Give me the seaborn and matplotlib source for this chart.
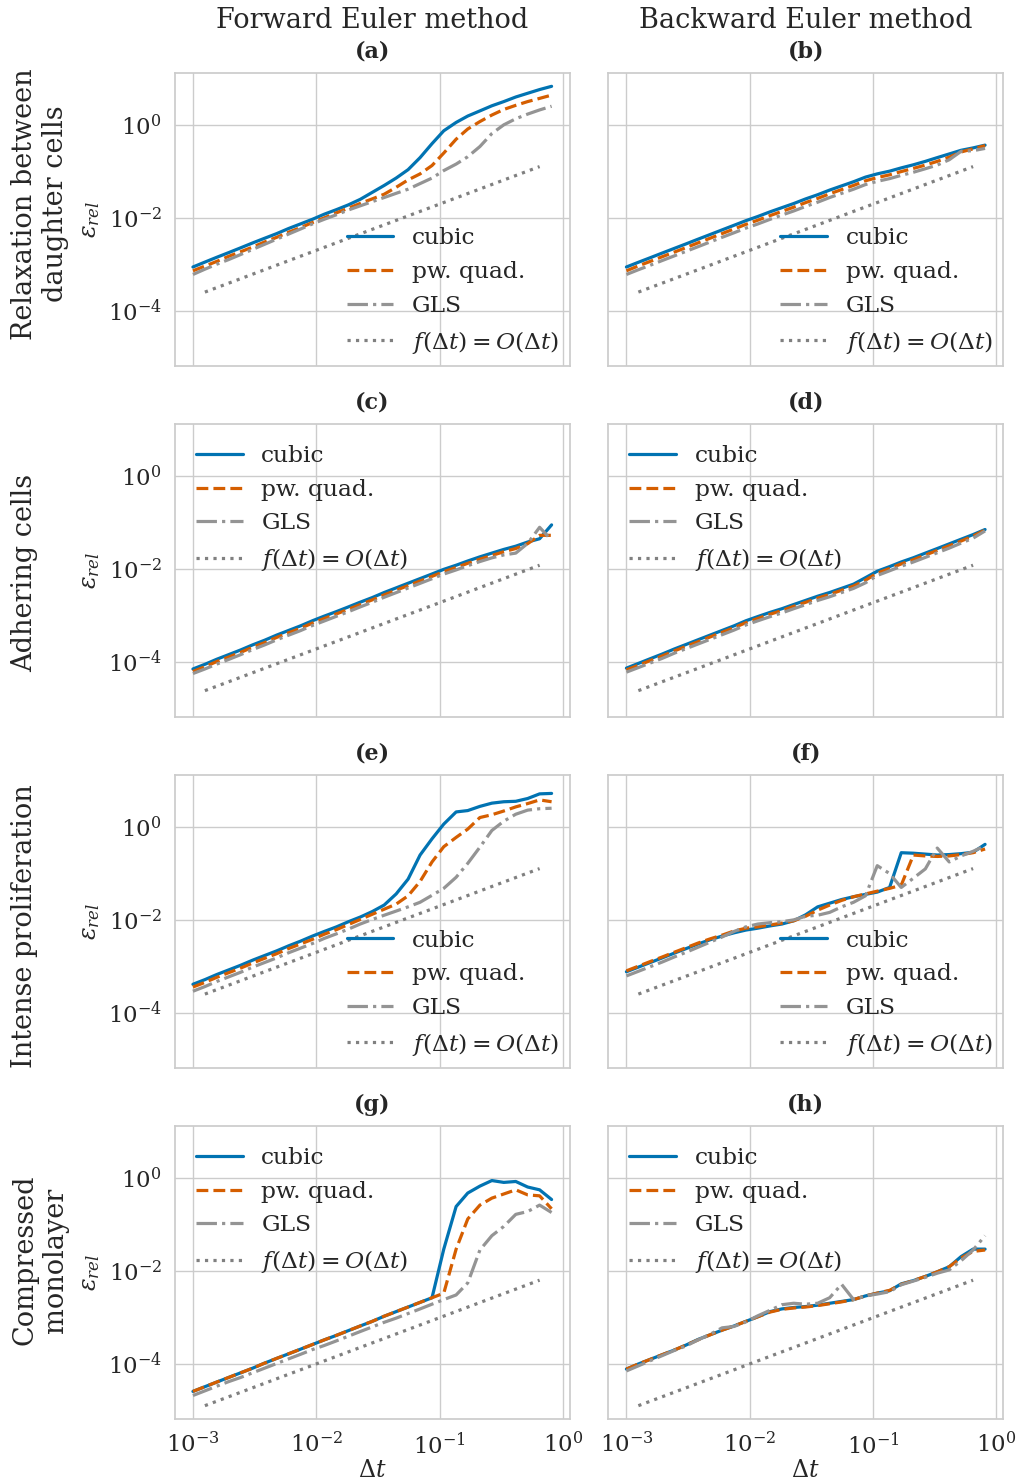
import numpy as np
import pandas as pd
import seaborn as sns
import matplotlib
matplotlib.use("Agg")
import matplotlib.pyplot as plt
from matplotlib.ticker import NullLocator

# time steps (shared by every panel)
dt = [0.001, 0.00125, 0.00156, 0.00195, 0.00244, 0.00305, 0.00381, 0.00477, 0.00596, 0.00745,
      0.00931, 0.0116, 0.0146, 0.0182, 0.0227, 0.0284, 0.0355, 0.0444, 0.0555, 0.0694,
      0.0867, 0.108, 0.136, 0.169, 0.212, 0.265, 0.331, 0.414, 0.517, 0.646, 0.808]

# relaxation between daughter cells
relax_fe_cubic = [8.7e-4, 1.11e-3, 1.41e-3, 1.78e-3, 2.26e-3, 2.88e-3, 3.63e-3, 4.57e-3, 5.89e-3, 7.41e-3,
                  9.33e-3, 1.20e-2, 1.51e-2, 1.91e-2, 2.51e-2, 3.55e-2, 5.01e-2, 7.24e-2, 0.110, 0.20,
                  0.40, 0.759, 1.15, 1.58, 2.04, 2.63, 3.24, 4.07, 4.90, 5.89, 6.92]
relax_fe_quad = [7.2e-4, 9.1e-4, 1.15e-3, 1.48e-3, 1.86e-3, 2.34e-3, 3.02e-3, 3.80e-3, 4.90e-3, 6.17e-3,
                 7.94e-3, 1.00e-2, 1.29e-2, 1.62e-2, 2.05e-2, 2.57e-2, 3.24e-2, 4.57e-2, 6.61e-2, 8.91e-2,
                 0.135, 0.251, 0.50, 0.83, 1.20, 1.66, 2.19, 2.69, 3.24, 3.80, 4.47]
relax_fe_gls = [6.0e-4, 7.8e-4, 1.00e-3, 1.26e-3, 1.62e-3, 2.09e-3, 2.69e-3, 3.47e-3, 4.47e-3, 5.75e-3,
                7.41e-3, 9.33e-3, 1.17e-2, 1.48e-2, 1.82e-2, 2.24e-2, 2.75e-2, 3.39e-2, 4.17e-2, 5.50e-2,
                7.24e-2, 0.105, 0.145, 0.209, 0.347, 0.661, 1.02, 1.38, 1.74, 2.14, 2.57]
relax_be_cubic = [8.7e-4, 1.10e-3, 1.38e-3, 1.74e-3, 2.19e-3, 2.75e-3, 3.47e-3, 4.37e-3, 5.50e-3, 6.92e-3,
                  8.71e-3, 1.07e-2, 1.35e-2, 1.66e-2, 2.04e-2, 2.57e-2, 3.16e-2, 3.98e-2, 4.90e-2, 6.03e-2,
                  7.59e-2, 8.91e-2, 0.102, 0.120, 0.140, 0.166, 0.200, 0.240, 0.288, 0.324, 0.372]
relax_be_quad = [7.2e-4, 9.2e-4, 1.15e-3, 1.45e-3, 1.82e-3, 2.29e-3, 2.89e-3, 3.64e-3, 4.58e-3, 5.76e-3,
                 7.25e-3, 8.9e-3, 1.12e-2, 1.38e-2, 1.70e-2, 2.14e-2, 2.63e-2, 3.31e-2, 4.08e-2, 5.02e-2,
                 6.32e-2, 7.41e-2, 8.5e-2, 0.100, 0.117, 0.138, 0.166, 0.205, 0.265, 0.309, 0.363]
relax_be_gls = [6.0e-4, 7.6e-4, 9.5e-4, 1.20e-3, 1.51e-3, 1.90e-3, 2.39e-3, 3.02e-3, 3.80e-3, 4.77e-3,
                6.01e-3, 7.38e-3, 9.3e-3, 1.15e-2, 1.41e-2, 1.77e-2, 2.18e-2, 2.75e-2, 3.38e-2, 4.16e-2,
                5.24e-2, 6.15e-2, 7.04e-2, 8.28e-2, 9.66e-2, 0.115, 0.138, 0.18, 0.274, 0.282, 0.316]

# adhering cells
adh_fe_cubic = [6.9e-5, 8.7e-5, 1.12e-4, 1.41e-4, 1.78e-4, 2.29e-4, 2.88e-4, 3.72e-4, 4.68e-4, 5.89e-4,
                7.59e-4, 9.55e-4, 1.20e-3, 1.51e-3, 1.91e-3, 2.40e-3, 3.09e-3, 3.89e-3, 4.90e-3, 6.17e-3,
                7.76e-3, 9.77e-3, 1.20e-2, 1.48e-2, 1.82e-2, 2.19e-2, 2.63e-2, 3.09e-2, 3.80e-2, 4.47e-2, 8.91e-2]
adh_fe_quad = [6.1e-5, 7.7e-5, 1.00e-4, 1.25e-4, 1.58e-4, 2.04e-4, 2.56e-4, 3.31e-4, 4.17e-4, 5.24e-4,
               6.75e-4, 8.5e-4, 1.07e-3, 1.34e-3, 1.70e-3, 2.14e-3, 2.75e-3, 3.46e-3, 4.36e-3, 5.49e-3,
               6.91e-3, 8.70e-3, 1.07e-2, 1.32e-2, 1.62e-2, 1.95e-2, 2.34e-2, 2.75e-2, 3.5e-2, 5.3e-2, 5.3e-2]
adh_fe_gls = [5.5e-5, 6.9e-5, 8.8e-5, 1.11e-4, 1.41e-4, 1.81e-4, 2.28e-4, 2.94e-4, 3.70e-4, 4.65e-4,
              6.0e-4, 7.5e-4, 9.5e-4, 1.19e-3, 1.51e-3, 1.90e-3, 2.44e-3, 3.07e-3, 3.87e-3, 4.87e-3,
              6.13e-3, 7.72e-3, 9.5e-3, 1.17e-2, 1.44e-2, 1.73e-2, 2.0e-2, 2.19e-2, 3.55e-2, 7.9e-2, 4.17e-2]
adh_be_cubic = [7.2e-5, 9.1e-5, 1.15e-4, 1.45e-4, 1.86e-4, 2.34e-4, 2.95e-4, 3.72e-4, 4.68e-4, 5.89e-4,
                7.59e-4, 9.33e-4, 1.15e-3, 1.38e-3, 1.70e-3, 2.09e-3, 2.57e-3, 3.09e-3, 3.80e-3, 4.68e-3,
                6.46e-3, 8.91e-3, 1.12e-2, 1.41e-2, 1.74e-2, 2.19e-2, 2.75e-2, 3.47e-2, 4.37e-2, 5.50e-2, 7.08e-2]
adh_be_quad = [6.6e-5, 8.3e-5, 1.05e-4, 1.32e-4, 1.69e-4, 2.13e-4, 2.68e-4, 3.39e-4, 4.26e-4, 5.36e-4,
               6.91e-4, 8.49e-4, 1.05e-3, 1.26e-3, 1.55e-3, 1.90e-3, 2.34e-3, 2.81e-3, 3.46e-3, 4.26e-3,
               5.7e-3, 8.1e-3, 1.02e-2, 1.28e-2, 1.58e-2, 1.99e-2, 2.50e-2, 3.16e-2, 4.0e-2, 5.1e-2, 6.9e-2]
adh_be_gls = [5.9e-5, 7.4e-5, 9.3e-5, 1.17e-4, 1.51e-4, 1.90e-4, 2.39e-4, 3.01e-4, 3.79e-4, 4.77e-4,
              6.15e-4, 7.56e-4, 9.3e-4, 1.12e-3, 1.38e-3, 1.69e-3, 2.08e-3, 2.50e-3, 3.08e-3, 3.79e-3,
              5.0e-3, 7.2e-3, 9.1e-3, 1.14e-2, 1.41e-2, 1.77e-2, 2.23e-2, 2.81e-2, 3.6e-2, 4.6e-2, 6.6e-2]

# intense proliferation
prolif_fe_cubic = [4.07e-4, 5.13e-4, 6.61e-4, 8.32e-4, 1.05e-3, 1.35e-3, 1.70e-3, 2.14e-3, 2.75e-3, 3.47e-3,
                   4.47e-3, 5.62e-3, 7.08e-3, 9.12e-3, 1.15e-2, 1.51e-2, 2.09e-2, 3.63e-2, 7.59e-2, 0.251,
                   0.562, 1.17, 2.14, 2.29, 2.82, 3.31, 3.55, 3.63, 4.17, 5.25, 5.37]
prolif_fe_quad = [3.55e-4, 4.47e-4, 5.75e-4, 7.24e-4, 9.12e-4, 1.17e-3, 1.48e-3, 1.86e-3, 2.40e-3, 3.02e-3,
                  3.80e-3, 4.90e-3, 6.17e-3, 7.94e-3, 1.02e-2, 1.32e-2, 1.70e-2, 2.19e-2, 3.31e-2, 6.76e-2,
                  0.178, 0.380, 0.603, 0.912, 1.62, 1.86, 2.24, 2.75, 3.24, 3.89, 3.55]
prolif_fe_gls = [2.88e-4, 3.63e-4, 4.68e-4, 5.89e-4, 7.41e-4, 9.55e-4, 1.20e-3, 1.51e-3, 1.95e-3, 2.45e-3,
                 3.09e-3, 3.98e-3, 5.01e-3, 6.31e-3, 8.13e-3, 1.02e-2, 1.26e-2, 1.55e-2, 1.91e-2, 2.40e-2,
                 3.39e-2, 4.79e-2, 8.32e-2, 0.166, 0.372, 0.851, 1.35, 1.91, 2.34, 2.51, 2.57]
prolif_be_cubic = [7.59e-4, 9.55e-4, 1.20e-3, 1.51e-3, 1.91e-3, 2.40e-3, 3.02e-3, 3.72e-3, 4.47e-3, 5.25e-3,
                   6.03e-3, 6.61e-3, 7.41e-3, 8.13e-3, 9.55e-3, 1.29e-2, 1.91e-2, 2.29e-2, 2.75e-2, 3.16e-2,
                   3.55e-2, 3.98e-2, 5.01e-2, 0.282, 0.275, 0.263, 0.251, 0.257, 0.269, 0.288, 0.427]
prolif_be_quad = [7.94e-4, 1.00e-3, 1.26e-3, 1.58e-3, 2.00e-3, 2.51e-3, 3.16e-3, 3.89e-3, 4.68e-3, 5.75e-3,
                  6.61e-3, 7.08e-3, 7.76e-3, 8.51e-3, 9.55e-3, 1.20e-2, 1.62e-2, 2.09e-2, 2.63e-2, 3.16e-2,
                  3.63e-2, 4.17e-2, 4.79e-2, 5.62e-2, 0.251, 0.240, 0.234, 0.240, 0.257, 0.282, 0.339]
prolif_be_gls = [6.17e-4, 7.76e-4, 9.77e-4, 1.23e-3, 1.58e-3, 2.00e-3, 2.57e-3, 3.31e-3, 4.27e-3, 5.62e-3,
                 7.08e-3, 8.13e-3, 8.71e-3, 9.12e-3, 1.00e-2, 1.20e-2, 1.26e-2, 1.45e-2, 1.91e-2, 2.40e-2,
                 3.31e-2, 0.148, 0.100, 5.01e-2, 7.94e-2, 0.126, 0.355, 0.178, 0.240, 0.302, 0.398]

# compressed monolayer
comp_fe_cubic = [2.5e-5, 3.16e-5, 3.98e-5, 5.01e-5, 6.31e-5, 7.94e-5, 1.02e-4, 1.29e-4, 1.62e-4, 2.04e-4,
                 2.57e-4, 3.24e-4, 4.07e-4, 5.13e-4, 6.46e-4, 8.13e-4, 1.05e-3, 1.32e-3, 1.66e-3, 2.09e-3,
                 2.63e-3, 2.95e-2, 0.245, 0.479, 0.676, 0.891, 0.813, 0.851, 0.646, 0.562, 0.347]
comp_fe_quad = [2.5e-5, 3.16e-5, 3.98e-5, 5.01e-5, 6.31e-5, 7.94e-5, 1.02e-4, 1.29e-4, 1.62e-4, 2.04e-4,
                2.57e-4, 3.24e-4, 4.07e-4, 5.13e-4, 6.46e-4, 8.13e-4, 1.05e-3, 1.32e-3, 1.66e-3, 2.09e-3,
                2.63e-3, 3.3e-3, 2.95e-2, 0.132, 0.263, 0.372, 0.457, 0.562, 0.437, 0.417, 0.219]
comp_fe_gls = [2.04e-5, 2.57e-5, 3.24e-5, 4.07e-5, 5.01e-5, 6.31e-5, 7.94e-5, 1.00e-4, 1.26e-4, 1.58e-4,
               2.00e-4, 2.45e-4, 3.09e-4, 3.89e-4, 4.90e-4, 6.17e-4, 7.76e-4, 9.55e-4, 1.20e-3, 1.51e-3,
               1.91e-3, 2.40e-3, 3.02e-3, 5.50e-3, 2.82e-2, 5.75e-2, 9.12e-2, 0.166, 0.191, 0.263, 0.182]
comp_be_cubic = [7.59e-5, 9.77e-5, 1.23e-4, 1.55e-4, 1.95e-4, 2.51e-4, 3.31e-4, 4.17e-4, 5.25e-4, 6.46e-4,
                 8.13e-4, 1.02e-3, 1.32e-3, 1.51e-3, 1.62e-3, 1.70e-3, 1.82e-3, 2.00e-3, 2.19e-3, 2.40e-3,
                 2.88e-3, 3.31e-3, 3.72e-3, 5.25e-3, 6.17e-3, 7.59e-3, 9.55e-3, 1.23e-2, 2.04e-2, 2.95e-2, 2.95e-2]
comp_be_quad = [7.59e-5, 9.77e-5, 1.23e-4, 1.55e-4, 1.95e-4, 2.51e-4, 3.24e-4, 4.17e-4, 5.25e-4, 6.46e-4,
                8.13e-4, 1.02e-3, 1.29e-3, 1.48e-3, 1.58e-3, 1.66e-3, 1.78e-3, 1.95e-3, 2.14e-3, 2.40e-3,
                2.88e-3, 3.31e-3, 3.80e-3, 5.13e-3, 6.17e-3, 7.59e-3, 9.55e-3, 1.23e-2, 1.91e-2, 2.63e-2, 2.82e-2]
comp_be_gls = [6.92e-5, 8.91e-5, 1.15e-4, 1.48e-4, 1.91e-4, 2.40e-4, 3.24e-4, 4.27e-4, 5.89e-4, 6.31e-4,
               7.94e-4, 1.07e-3, 1.41e-3, 1.86e-3, 2.00e-3, 1.91e-3, 2.00e-3, 2.63e-3, 5.13e-3, 2.40e-3,
               2.88e-3, 3.16e-3, 3.55e-3, 5.01e-3, 6.03e-3, 7.24e-3, 8.91e-3, 1.05e-2, 1.66e-2, 2.82e-2, 5.75e-2]

# O(dt) reference lines (end points)
ref_dt = [0.00125, 0.646]
ref_relax = [2.5e-4, 0.128]
ref_adh = [2.35e-5, 0.012]
ref_prolif = [2.5e-4, 0.128]
ref_comp = [1.23e-5, 6.3e-3]

col_titles = ["Forward Euler method", "Backward Euler method"]
row_names = ["Relaxation between\ndaughter cells", "Adhering cells",
             "Intense proliferation", "Compressed\nmonolayer"]
row_centers = [204, 573, 926, 1260]  # pixel centres of the row labels
legend_locs = ["lower right", "upper left", "lower right", "upper left"]
legend_pads = [0.05, 0.5, 0.05, 0.5]
letters = "abcdefgh"

panels = [
    [(relax_fe_cubic, relax_fe_quad, relax_fe_gls), (relax_be_cubic, relax_be_quad, relax_be_gls)],
    [(adh_fe_cubic, adh_fe_quad, adh_fe_gls), (adh_be_cubic, adh_be_quad, adh_be_gls)],
    [(prolif_fe_cubic, prolif_fe_quad, prolif_fe_gls), (prolif_be_cubic, prolif_be_quad, prolif_be_gls)],
    [(comp_fe_cubic, comp_fe_quad, comp_fe_gls), (comp_be_cubic, comp_be_quad, comp_be_gls)],
]
refs = [ref_relax, ref_adh, ref_prolif, ref_comp]

sns.set_theme(style="whitegrid")
plt.rcParams["font.family"] = ["DejaVu Serif"]
plt.rcParams["mathtext.fontset"] = "dejavuserif"

pal = sns.color_palette("colorblind")
c_cubic, c_quad, c_gls, c_ref = pal[0], pal[3], pal[7], "gray"
lw = 2.3

W, H = 1019, 1484
fig, axes = plt.subplots(4, 2, figsize=(W / 100, H / 100), sharex=True, sharey=True)
fig.subplots_adjust(left=175 / W, right=1003 / W, top=1 - 73 / H, bottom=1 - 1419 / H,
                    wspace=39 / 395, hspace=58 / 293)

for r in range(4):
    for c in range(2):
        ax = axes[r, c]
        ax.set_xscale("log")
        ax.set_yscale("log")
        cub, quad, gls = panels[r][c]
        sns.lineplot(x=dt, y=cub, ax=ax, color=c_cubic, lw=lw, label="cubic")
        sns.lineplot(x=dt, y=quad, ax=ax, color=c_quad, lw=lw, linestyle="--", label="pw. quad.")
        sns.lineplot(x=dt, y=gls, ax=ax, color=c_gls, lw=lw, linestyle="-.", label="GLS")
        sns.lineplot(x=ref_dt, y=refs[r], ax=ax, color=c_ref, lw=lw, linestyle=":",
                     label=r"$f(\Delta t) = O(\Delta t)$")
        ax.legend(loc=legend_locs[r], frameon=False, fontsize=16.8,
                  borderaxespad=legend_pads[r])
        ax.set_title(f"({letters[2 * r + c]})", fontweight="bold", fontsize=16, pad=11)
        ax.set_xticks([1e-3, 1e-2, 1e-1, 1e0])
        ax.set_yticks([1e-4, 1e-2, 1e0])
        ax.xaxis.set_minor_locator(NullLocator())
        ax.yaxis.set_minor_locator(NullLocator())
        ax.tick_params(labelsize=16.5)
        if c == 0:
            ax.set_ylabel(r"$\varepsilon_{rel}$", fontsize=17, labelpad=4)
        else:
            ax.set_ylabel("")
        if r == 3:
            ax.set_xlabel(r"$\Delta t$", fontsize=17, labelpad=0)
        else:
            ax.set_xlabel("")

for c in range(2):
    axes[0, c].text(0.5, 1.18, col_titles[c], transform=axes[0, c].transAxes,
                    ha="center", va="center", fontsize=19.5)

for r in range(4):
    fig.text(11 / W, 1 - row_centers[r] / H, row_names[r], rotation=90,
             ha="left", va="center", multialignment="center", fontsize=19.5)

fig.savefig("out.png", dpi=100)
